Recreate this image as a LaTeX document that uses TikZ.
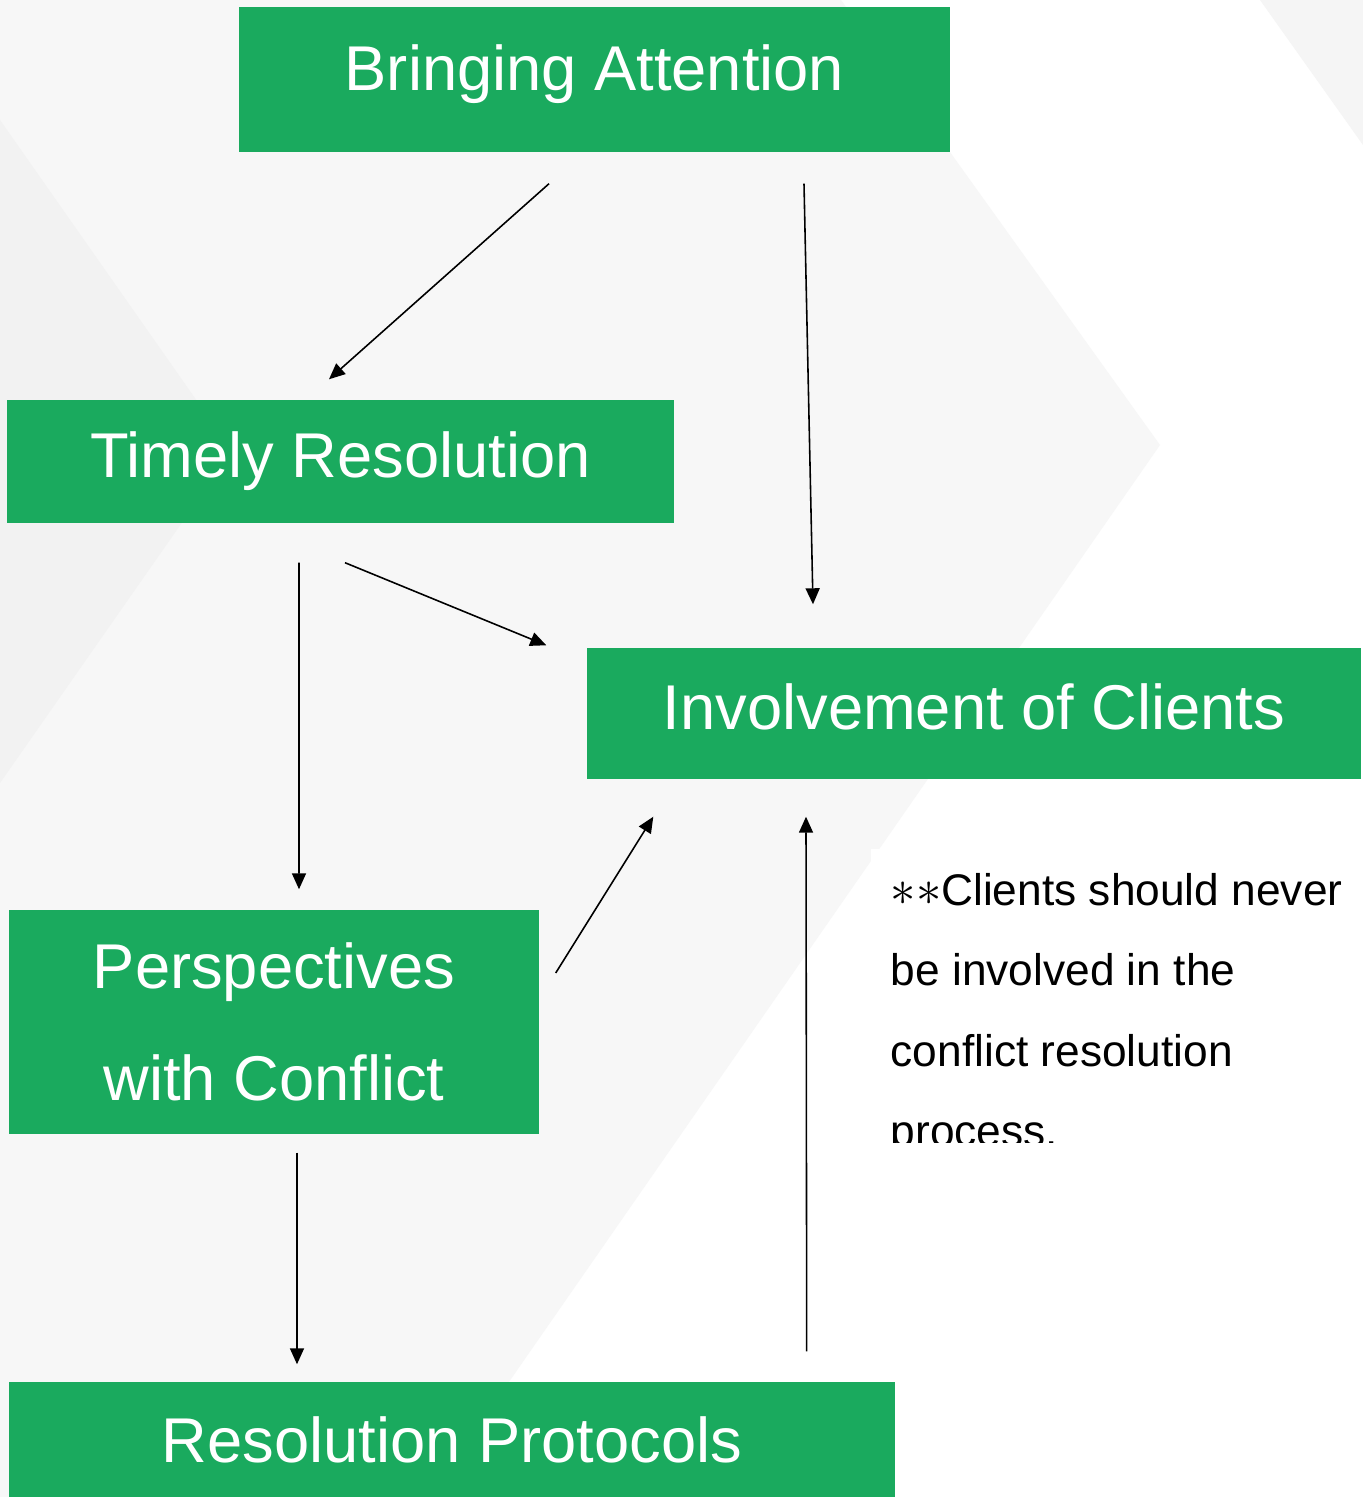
\documentclass[tikz,border=0pt]{standalone}
\usepackage{fontspec}
\setmainfont{Liberation Sans}
\usepackage{tikz}
\usetikzlibrary{positioning,arrows.meta}
\definecolor{boxgreen}{RGB}{26,170,94}
\definecolor{bgpale}{RGB}{247,247,247}
\definecolor{bgband}{RGB}{242,242,242}

\begin{document}
\begin{tikzpicture}[
  gbox/.style={fill=boxgreen, text=white, inner sep=0pt, align=center, font=\fontsize{18}{32}\selectfont},
  arr/.style={-{Triangle[length=1.6mm, width=1.4mm]}, line width=0.45pt},
  note/.style={fill=white, anchor=north west, inner xsep=0.2cm, inner ysep=0.25cm, align=left, font=\fontsize{12.6}{22.8}\selectfont}]
  \useasboundingbox (0,0) rectangle (13.63,14.97);
  % backdrop chevrons
  \fill[white] (0,0) rectangle (13.63,14.97);
  \fill[bgpale] (0,14.97) -- (8.41,14.97) -- (11.60,10.52) -- (4.29,0) -- (0,0) -- cycle;
  \fill[bgband] (0,13.77) -- (2.32,10.46) -- (0,7.14) -- cycle;
  \fill[bgpale!60!bgband] (12.60,14.97) -- (13.63,14.97) -- (13.63,13.52) -- cycle;
  % boxes
  \node[gbox, minimum width=7.11cm, minimum height=1.45cm, text depth=7pt] (ba) at (5.945,14.175) {Bringing Attention};
  \node[gbox, minimum width=6.67cm, minimum height=1.23cm] (tr) at (3.405,10.355) {Timely Resolution};
  \node[gbox, minimum width=7.74cm, minimum height=1.31cm, text depth=4pt] (ic) at (9.74,7.835) {Involvement of Clients};
  \node[gbox, minimum width=5.30cm, minimum height=2.24cm] (pc) at (2.74,4.75) {Perspectives\\with Conflict};
  \node[gbox, minimum width=8.86cm, minimum height=1.15cm] (rp) at (4.52,0.575) {Resolution Protocols};
  \begin{scope}
    \clip (8.70,6.49) rectangle (13.63,3.54);
    \node[note] (nt) at (8.70,6.49) {{\fontsize{15}{22.8}\selectfont$\ast\ast$}Clients should never\\be involved in the\\conflict resolution\\process.};
  \end{scope}
  % arrows
  \draw[arr] ([xshift=-0.455cm,yshift=-0.31cm]ba.south) -- ([xshift=-0.115cm,yshift=0.2cm]tr.north);
  \draw[arr] ([xshift=2.095cm,yshift=-0.31cm]ba.south) -- ([xshift=-1.61cm,yshift=0.43cm]ic.north);
  \draw[arr] ([xshift=0.045cm,yshift=-0.39cm]tr.south) -- ([xshift=-0.40cm,yshift=0.02cm]ic.north west);
  \draw[arr] ([xshift=-0.415cm,yshift=-0.39cm]tr.south) -- ([xshift=0.25cm,yshift=0.2cm]pc.north);
  \draw[arr] ([xshift=0.16cm,yshift=0.49cm]pc.east) -- ([xshift=0.67cm,yshift=-0.37cm]ic.south west);
  \draw[arr] ([xshift=0.23cm,yshift=-0.18cm]pc.south) -- ([xshift=-1.55cm,yshift=0.17cm]rp.north);
  \draw[arr] ([xshift=-0.89cm,yshift=0.30cm]rp.north east) -- ([xshift=-1.68cm,yshift=-0.37cm]ic.south);
\end{tikzpicture}
\end{document}
